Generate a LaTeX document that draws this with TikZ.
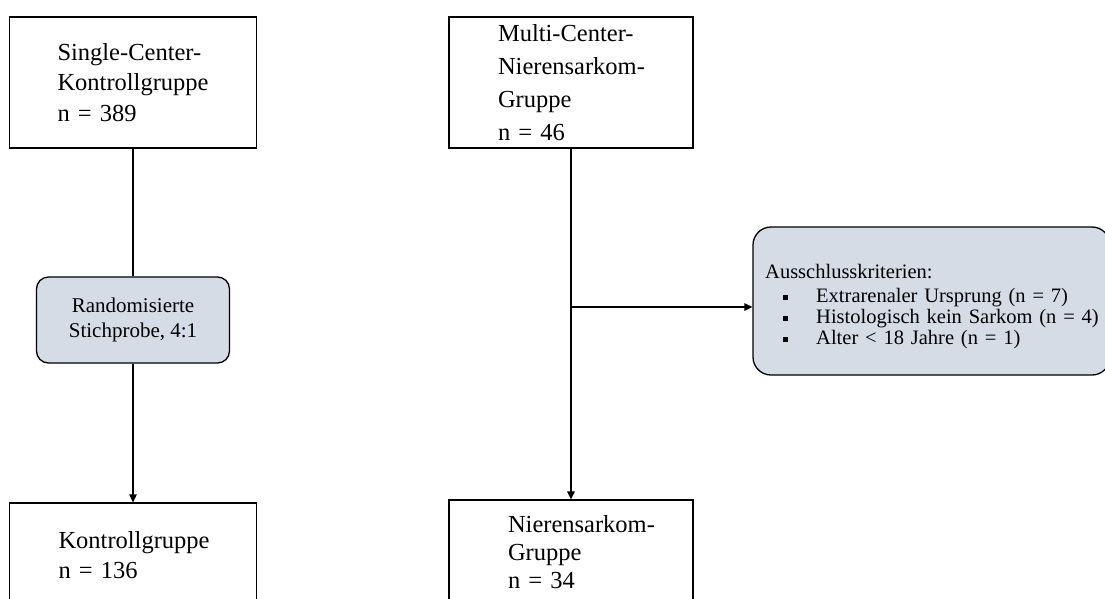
\documentclass[tikz,border=0pt]{standalone}
\usepackage{fontspec}
\setmainfont{Liberation Serif}
\usetikzlibrary{arrows.meta}
\definecolor{boxfill}{HTML}{D6DCE5}
\begin{document}
\begin{tikzpicture}[x=1pt,y=-1pt,
  box/.style={draw, line width=1.3pt, rectangle, inner sep=0pt, align=left},
  rbox/.style={draw, line width=1.3pt, rounded corners=12pt, fill=boxfill, inner sep=0pt},
  conn/.style={line width=1.3pt},
  arr/.style={conn, -{Triangle[length=8pt,width=7.5pt]}}
]
\useasboundingbox (0,0) rectangle (1105,598);
\clip (0,0) rectangle (1105,598);

\node[box, minimum width=247pt, minimum height=131pt, text width=151pt,
      font=\fontsize{24.5}{30.5}\selectfont] (sc) at (133,82.5)
  {Single-Center-\\Kontrollgruppe\\n = 389};

\node[box, minimum width=244pt, minimum height=131pt, text width=146pt,
      font=\fontsize{24.5}{33}\selectfont] (mc) at (571,82.5)
  {\mbox{Multi-Center-}\\\mbox{Nierensarkom-}\\Gruppe\\n = 46};

\node[rbox, minimum width=193pt, minimum height=86pt, align=center,
      font=\fontsize{21}{25}\selectfont] (rs) at (133,320)
  {Randomisierte\\Stichprobe, 4:1};

\node[box, minimum width=247pt, minimum height=104.4pt, text width=149pt,
      font=\fontsize{24.5}{30}\selectfont] (ko) at (133,555.2)
  {Kontrollgruppe\\n = 136};

\node[box, minimum width=244pt, minimum height=104.3pt, text width=126pt,
      font=\fontsize{24.5}{28}\selectfont] (ns) at (571,552.2)
  {\mbox{Nierensarkom-}\\Gruppe\\n = 34};

\node[rbox, rounded corners=18pt, minimum width=357pt, minimum height=148pt] (ex) at (931.5,301) {};
\node[anchor=base west, text width=335pt, align=left, inner sep=0pt,
      font=\fontsize{20.5}{21}\selectfont] (exText) at (765,278)
  {Ausschlusskriterien:\\[3pt]
   \hspace*{18pt}\makebox[33pt][l]{\rule[2pt]{5pt}{5pt}}Extrarenaler Ursprung (n = 7)\\
   \hspace*{18pt}\makebox[33pt][l]{\rule[2pt]{5pt}{5pt}}Histologisch kein Sarkom (n = 4)\\
   \hspace*{18pt}\makebox[33pt][l]{\rule[2pt]{5pt}{5pt}}Alter < 18 Jahre (n = 1)};

\draw[conn] (sc.south) -- (rs.north);
\draw[arr] (rs.south) -- (ko.north);
\draw[arr] (mc.south) -- (ns.north);
\coordinate (br) at (mc.south |- 0,307);
\draw[arr] (br) -- (br -| ex.west);
\end{tikzpicture}
\end{document}
